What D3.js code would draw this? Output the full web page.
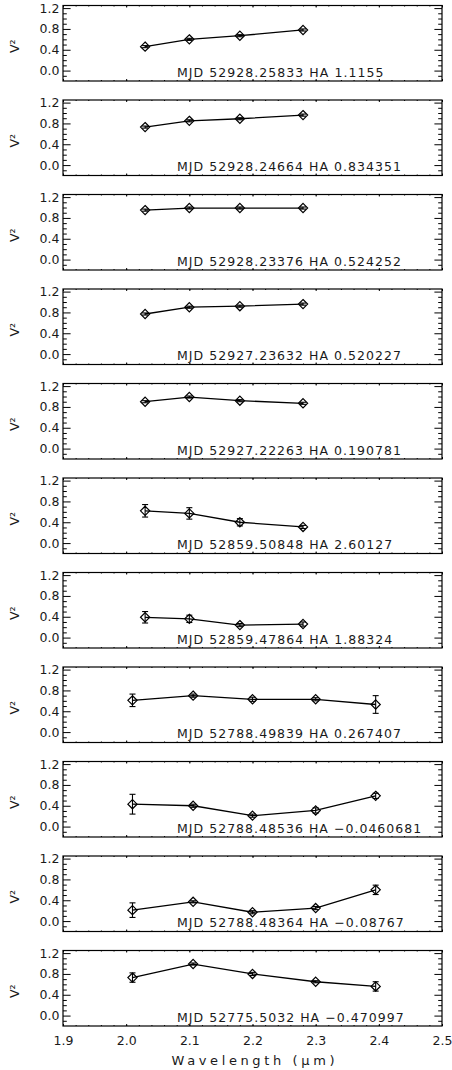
<!DOCTYPE html>
<html>
<head>
<meta charset="utf-8">
<script src="https://cdn.jsdelivr.net/npm/d3@7/dist/d3.min.js"></script>
<style>
  body { margin: 0; background: #fff; }
  text { font-family: 'DejaVu Sans', sans-serif; fill: #1a1a1a; }
  .tick-label { font-size: 12.5px; }
  .note { font-size: 12.5px; }
  .axis-title { font-size: 13px; }
</style>
</head>
<body>
<div id="chart"></div>
<script>
// Wavelength grids (micron)
var waveShort = [2.03, 2.10, 2.18, 2.28];
var waveLong = [2.01, 2.106, 2.20, 2.30, 2.395];

// Panel labels, top to bottom
var mjdLabels = ['52928.25833', '52928.24664', '52928.23376', '52927.23632', '52927.22263',
                 '52859.50848', '52859.47864', '52788.49839', '52788.48536', '52788.48364',
                 '52775.5032'];
var haLabels = ['1.1155', '0.834351', '0.524252', '0.520227', '0.190781',
                '2.60127', '1.88324', '0.267407', '\u22120.0460681', '\u22120.08767',
                '\u22120.470997'];

// Squared visibilities and errors per panel
var v2Values = [
  [0.46, 0.60, 0.67, 0.78],
  [0.73, 0.85, 0.89, 0.96],
  [0.95, 0.99, 0.99, 0.99],
  [0.77, 0.90, 0.92, 0.96],
  [0.90, 0.99, 0.92, 0.87],
  [0.62, 0.57, 0.40, 0.31],
  [0.39, 0.36, 0.24, 0.26],
  [0.61, 0.70, 0.63, 0.63, 0.53],
  [0.43, 0.40, 0.21, 0.31, 0.59],
  [0.21, 0.37, 0.17, 0.25, 0.60],
  [0.73, 0.99, 0.80, 0.65, 0.56]
];
var v2Errors = [
  [0.02, 0.02, 0.02, 0.02],
  [0.02, 0.02, 0.02, 0.02],
  [0.02, 0.02, 0.02, 0.02],
  [0.02, 0.02, 0.02, 0.02],
  [0.02, 0.02, 0.02, 0.02],
  [0.12, 0.11, 0.07, 0.03],
  [0.11, 0.07, 0.03, 0.04],
  [0.12, 0.03, 0.04, 0.03, 0.17],
  [0.19, 0.03, 0.03, 0.05, 0.05],
  [0.14, 0.02, 0.03, 0.03, 0.09],
  [0.09, 0.02, 0.03, 0.02, 0.09]
];

var xTicks = [1.9, 2.0, 2.1, 2.2, 2.3, 2.4, 2.5];
var xMinorTicks = d3.range(31).map(function(i) { return 1.9 + i * 0.02; });
var yTicks = [0.0, 0.4, 0.8, 1.2];
var yMinorTicks = [-0.1, 0.1, 0.2, 0.3, 0.5, 0.6, 0.7, 0.9, 1.0, 1.1];

var margin = { top: 5.5, left: 63 };
var width = 379,
    height = 75.5,
    step = 94.5;

var svg = d3.select('#chart')
            .append('svg')
            .attr('width', 452)
            .attr('height', 1070);

var x = d3.scaleLinear().domain([1.9, 2.5]).range([0, width]);
var y = d3.scaleLinear().domain([-0.2, 1.25]).range([height, 0]);

function diamond(r) {
  return 'M0,' + (-r) + 'L' + r + ',0L0,' + r + 'L' + (-r) + ',0Z';
}

// the original uses a wide stroked plotter font; approximate its advance widths
var charUnits = { ' ': 16, '.': 10, '\u2212': 26, 'M': 24, 'J': 16, 'D': 21, 'H': 22, 'A': 18 };
function plotterWidth(str) {
  var u = 0;
  for (var k = 0; k < str.length; k++) {
    u += charUnits[str[k]] || 20;
  }
  return u * 0.44;
}

// strip d3's default font settings so the css applies
function cleanAxis(a) {
  a.select('.domain').remove();
  a.attr('font-family', null).attr('font-size', null);
  a.selectAll('text').attr('class', 'tick-label');
}

v2Values.forEach(function(vals, i) {
  var wave = vals.length === 4 ? waveShort : waveLong;
  var pts = vals.map(function(v, j) {
    return { w: wave[j], v: v, e: v2Errors[i][j] };
  });
  var last = i === v2Values.length - 1;

  var g = svg.append('g')
             .attr('transform', 'translate(' + margin.left + ',' + (margin.top + i * step) + ')');

  // Y axes: major + minor ticks, both sides
  g.append('g')
   .call(d3.axisLeft(y).tickValues(yTicks).tickSize(-7.6).tickPadding(3.5).tickFormat(d3.format('.1f')))
   .call(cleanAxis);
  g.append('g')
   .call(d3.axisLeft(y).tickValues(yMinorTicks).tickSize(-3.8).tickFormat(''))
   .call(cleanAxis);
  g.append('g')
   .attr('transform', 'translate(' + width + ',0)')
   .call(d3.axisRight(y).tickValues(yTicks).tickSize(-7.6).tickFormat(''))
   .call(cleanAxis);
  g.append('g')
   .attr('transform', 'translate(' + width + ',0)')
   .call(d3.axisRight(y).tickValues(yMinorTicks).tickSize(-3.8).tickFormat(''))
   .call(cleanAxis);

  // X axes: tiny ticks top and bottom
  g.append('g')
   .attr('transform', 'translate(0,' + height + ')')
   .call(d3.axisBottom(x).tickValues(xTicks).tickSize(-2).tickPadding(10)
           .tickFormat(last ? d3.format('.1f') : ''))
   .call(cleanAxis);
  g.append('g')
   .attr('transform', 'translate(0,' + height + ')')
   .call(d3.axisBottom(x).tickValues(xMinorTicks).tickSize(-1).tickFormat(''))
   .call(cleanAxis);
  g.append('g')
   .call(d3.axisTop(x).tickValues(xTicks).tickSize(-2).tickFormat(''))
   .call(cleanAxis);
  g.append('g')
   .call(d3.axisTop(x).tickValues(xMinorTicks).tickSize(-1).tickFormat(''))
   .call(cleanAxis);

  // Frame
  g.append('rect')
   .attr('width', width)
   .attr('height', height)
   .attr('fill', 'none')
   .attr('stroke', '#000')
   .attr('stroke-width', 1.2);

  // Y label
  g.append('text')
   .attr('class', 'tick-label')
   .attr('transform', 'translate(' + (-44) + ',' + (height / 2 + 3) + ') rotate(-90)')
   .attr('text-anchor', 'middle')
   .text('V\u00b2');

  // Data line
  var line = d3.line()
               .x(function(d) { return x(d.w); })
               .y(function(d) { return y(d.v); });

  g.append('path')
   .datum(pts)
   .attr('d', line)
   .attr('fill', 'none')
   .attr('stroke', '#000')
   .attr('stroke-width', 1.3);

  // Error bars
  var eb = g.selectAll('.err')
            .data(pts)
            .enter()
            .append('g')
            .attr('class', 'err')
            .attr('stroke', '#000')
            .attr('stroke-width', 1.1);

  eb.append('line')
    .attr('x1', function(d) { return x(d.w); })
    .attr('x2', function(d) { return x(d.w); })
    .attr('y1', function(d) { return y(d.v - d.e); })
    .attr('y2', function(d) { return y(d.v + d.e); });
  eb.append('line')
    .attr('x1', function(d) { return x(d.w) - 3; })
    .attr('x2', function(d) { return x(d.w) + 3; })
    .attr('y1', function(d) { return y(d.v - d.e); })
    .attr('y2', function(d) { return y(d.v - d.e); });
  eb.append('line')
    .attr('x1', function(d) { return x(d.w) - 3; })
    .attr('x2', function(d) { return x(d.w) + 3; })
    .attr('y1', function(d) { return y(d.v + d.e); })
    .attr('y2', function(d) { return y(d.v + d.e); });

  // Diamonds
  g.selectAll('.pt')
   .data(pts)
   .enter()
   .append('path')
   .attr('class', 'pt')
   .attr('transform', function(d) { return 'translate(' + x(d.w) + ',' + y(d.v) + ')'; })
   .attr('d', diamond(4.6))
   .attr('fill', 'none')
   .attr('stroke', '#000')
   .attr('stroke-width', 1.2);

  // Annotation
  var note = 'MJD ' + mjdLabels[i] + ' HA ' + haLabels[i];
  g.append('text')
   .attr('class', 'note')
   .attr('x', 114)
   .attr('y', height - 4.5)
   .attr('textLength', plotterWidth(note))
   .attr('lengthAdjust', 'spacing')
   .text(note);

  if (last) {
    g.append('text')
     .attr('class', 'axis-title')
     .attr('x', width / 2 - 81)
     .attr('y', height + 39)
     .attr('textLength', 163)
     .attr('lengthAdjust', 'spacing')
     .text('Wavelength (\u03bcm)');
  }
});
</script>
</body>
</html>
